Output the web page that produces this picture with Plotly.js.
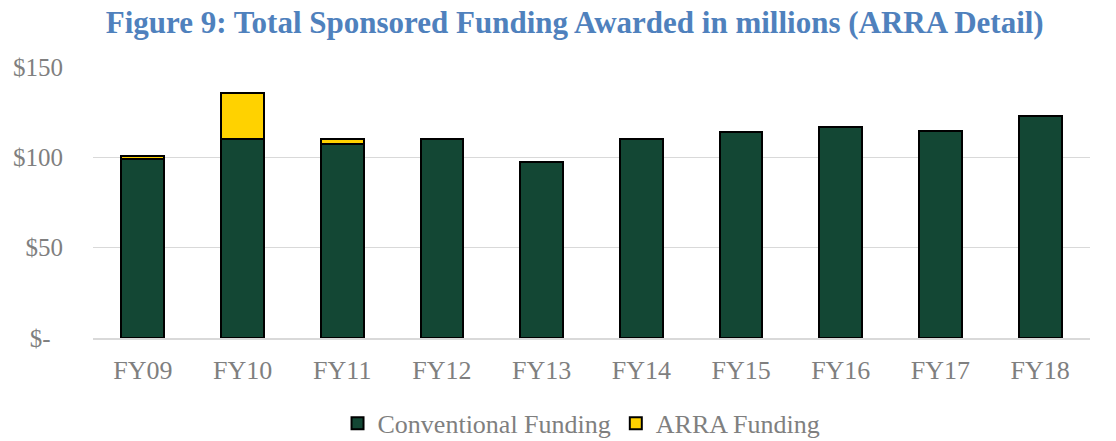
<!DOCTYPE html>
<html>
<head>
<meta charset="utf-8">
<script src="https://cdn.plot.ly/plotly-3.0.1.min.js"></script>
<style>html,body{margin:0;padding:0;background:#fff;}#chart{width:1116px;height:441px;}</style>
</head>
<body>
<div id="chart"></div>
<script>
const categories = ["FY09","FY10","FY11","FY12","FY13","FY14","FY15","FY16","FY17","FY18"];
const conventional = [99, 110.3, 107.4, 110.3, 97.4, 110, 114.3, 116.8, 114.6, 122.9];
const arra = [1.5, 25.4, 2.9, 0, 0, 0, 0, 0, 0, 0];
const yTickVals = [0, 50, 100, 150];
const yTickText = ["$-\u00a0\u00a0", "$50", "$100", "$150"];

const serif = "Liberation Serif, Times New Roman, serif";
const traces = [
  {type:"bar", name:"Conventional Funding", x:categories, y:conventional,
   marker:{color:"#134734", line:{color:"#000", width:2}}, width:0.43},
  {type:"bar", name:"ARRA Funding", x:categories, y:arra,
   marker:{color:"#FFD200", line:{color:"#000", width:2}}, width:0.43}
];
const layout = {
  width:1116, height:441,
  margin:{l:93, r:26, t:67, b:103},
  barmode:"stack",
  paper_bgcolor:"#fff", plot_bgcolor:"#fff",
  title:{text:"<b>Figure 9: Total Sponsored Funding Awarded in millions (ARRA Detail)</b>",
    font:{family:serif, size:31, color:"#4F81BD"}, x:0.515, xanchor:"center", y:0.95, yanchor:"middle"},
  xaxis:{tickfont:{family:serif, size:26, color:"#7f7f7f"}, showgrid:false, showline:true,
    linecolor:"#d9d9d9", linewidth:2, ticks:"", ticklabelstandoff:8},
  yaxis:{range:[0,150], tickvals:yTickVals, ticktext:yTickText,
    tickfont:{family:serif, size:25, color:"#7f7f7f"}, gridcolor:"#d9d9d9", gridwidth:1.5,
    zeroline:false, showline:false, ticks:"", ticklabelstandoff:29},
  legend:{orientation:"h", x:0.49, xanchor:"center", yref:"container", y:0.04, yanchor:"middle",
    font:{family:serif, size:26, color:"#7f7f7f"}, traceorder:"normal", itemwidth:30},
  showlegend:true
};
Plotly.newPlot("chart", traces, layout, {displayModeBar:false, staticPlot:true});
</script>
</body>
</html>
